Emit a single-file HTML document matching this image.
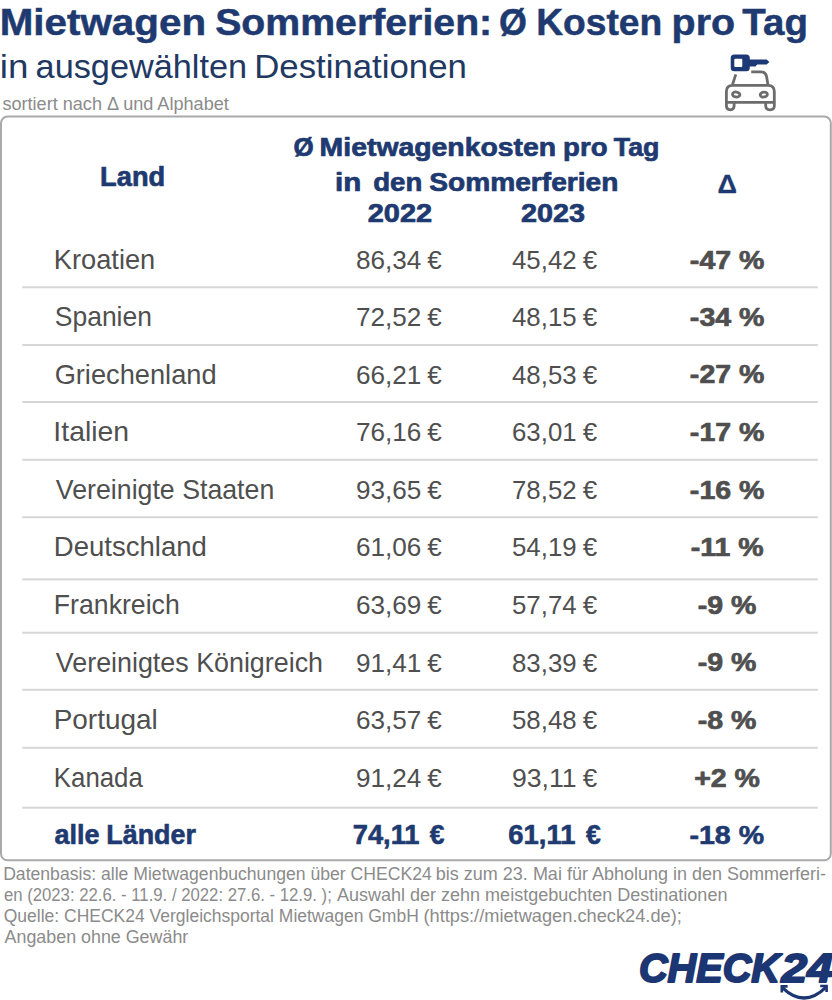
<!DOCTYPE html>
<html lang="de"><head><meta charset="utf-8"><title>Mietwagen Sommerferien</title>
<style>
html,body{margin:0;padding:0;background:#fff;}
body{width:832px;height:1000px;overflow:hidden;}
svg{display:block;}
text{font-family:'Liberation Sans', Arial, sans-serif;white-space:pre;}
</style></head><body>
<svg width="832" height="1000" viewBox="0 0 832 1000">
<rect width="832" height="1000" fill="#fff"/>
<rect x="1" y="116.6" width="829.8" height="743.7" rx="6.5" ry="6.5" fill="none" stroke="#a9a9a9" stroke-width="2"/>
<rect x="22.3" y="286.30" width="795.5" height="2" fill="#d6d6d6"/>
<rect x="22.3" y="344.00" width="795.5" height="2" fill="#d6d6d6"/>
<rect x="22.3" y="401.00" width="795.5" height="2" fill="#d6d6d6"/>
<rect x="22.3" y="458.80" width="795.5" height="2" fill="#d6d6d6"/>
<rect x="22.3" y="516.20" width="795.5" height="2" fill="#d6d6d6"/>
<rect x="22.3" y="578.40" width="795.5" height="2" fill="#d6d6d6"/>
<rect x="22.3" y="631.70" width="795.5" height="2" fill="#d6d6d6"/>
<rect x="22.3" y="688.80" width="795.5" height="2" fill="#d6d6d6"/>
<rect x="22.3" y="746.80" width="795.5" height="2" fill="#d6d6d6"/>
<rect x="22.3" y="806.70" width="795.5" height="2" fill="#d6d6d6"/>

<g id="icon">
 <g fill="none" stroke="#6c6c6c" stroke-width="2.8" stroke-linejoin="round">
  <path d="M735.8 74.4 L732.5 84.6" stroke-linecap="butt"/>
  <path d="M751.2 71.8 L760.8 71.8 Q765.6 71.8 766.6 76.5 L767.9 84.6" stroke-linecap="butt"/>
  <path d="M732.6 85.4 L768.1 85.4 Q774.3 85.4 774.3 91.6 L774.3 102.3 L726.4 102.3 L726.4 91.6 Q726.4 85.4 732.6 85.4 Z"/>
  <path d="M726.4 102.3 L726.4 106.1 Q726.4 109.8 730.25 109.8 Q734.1 109.8 734.1 106.1 L734.1 102.3"/>
  <path d="M765.7 102.3 L765.7 106.1 Q765.7 109.8 770 109.8 Q774.3 109.8 774.3 106.1 L774.3 102.3"/>
  <ellipse cx="736.2" cy="94.5" rx="3.7" ry="2.5" transform="rotate(8 736.2 94.5)"/>
  <ellipse cx="763.8" cy="94.6" rx="3.6" ry="2.4" transform="rotate(-8 763.8 94.6)"/>
 </g>
 <path fill="#1c3877" fill-rule="evenodd" d="M734.3 54.4 L746.2 54.4 Q749.8 54.4 749.8 58 L749.8 59.4 L766.6 59.4 L769.4 62 L766.6 64.6 L757.2 64.6 L755.3 66.6 L749.8 66.6 L749.8 67.7 Q749.8 71.3 746.2 71.3 L734.3 71.3 Q730.7 71.3 730.7 67.7 L730.7 58 Q730.7 54.4 734.3 54.4 Z M735.2 58.8 L741.4 58.8 Q742.3 58.8 742.3 59.7 L742.3 66 Q742.3 66.9 741.4 66.9 L735.2 66.9 Q734.3 66.9 734.3 66 L734.3 59.7 Q734.3 58.8 735.2 58.8 Z"/>
</g>
<text x="-0.27" y="34.85" font-size="37.38" font-weight="bold" fill="#1e3a70" stroke="#1e3a70" stroke-width="0.5" stroke-linejoin="round" textLength="206.32" lengthAdjust="spacingAndGlyphs">Mietwagen</text>
<text x="215.17" y="34.85" font-size="37.38" font-weight="bold" fill="#1e3a70" stroke="#1e3a70" stroke-width="0.5" stroke-linejoin="round" textLength="277.02" lengthAdjust="spacingAndGlyphs">Sommerferien:</text>
<text x="499.12" y="34.85" font-size="37.38" font-weight="bold" fill="#1e3a70" stroke="#1e3a70" stroke-width="0.5" stroke-linejoin="round" textLength="27.88" lengthAdjust="spacingAndGlyphs">Ø</text>
<text x="536.24" y="34.85" font-size="37.38" font-weight="bold" fill="#1e3a70" stroke="#1e3a70" stroke-width="0.5" stroke-linejoin="round" textLength="126.01" lengthAdjust="spacingAndGlyphs">Kosten</text>
<text x="671.59" y="34.85" font-size="37.38" font-weight="bold" fill="#1e3a70" stroke="#1e3a70" stroke-width="0.5" stroke-linejoin="round" textLength="63.47" lengthAdjust="spacingAndGlyphs">pro</text>
<text x="742.37" y="34.85" font-size="37.38" font-weight="bold" fill="#1e3a70" stroke="#1e3a70" stroke-width="0.5" stroke-linejoin="round" textLength="65.53" lengthAdjust="spacingAndGlyphs">Tag</text>
<text x="-0.28" y="78.00" font-size="32.87" font-weight="normal" fill="#213862" textLength="28.61" lengthAdjust="spacingAndGlyphs">in</text>
<text x="35.64" y="78.00" font-size="32.87" font-weight="normal" fill="#213862" textLength="211.45" lengthAdjust="spacingAndGlyphs">ausgewählten</text>
<text x="254.23" y="78.00" font-size="32.87" font-weight="normal" fill="#213862" textLength="212.66" lengthAdjust="spacingAndGlyphs">Destinationen</text>
<text x="2.40" y="109.50" font-size="17.89" font-weight="normal" fill="#8b8b8b" textLength="226.44" lengthAdjust="spacingAndGlyphs">sortiert nach Δ und Alphabet</text>
<text x="100.11" y="185.75" font-size="27.35" font-weight="bold" fill="#1e3a70" stroke="#1e3a70" stroke-width="0.7" stroke-linejoin="round" textLength="65.04" lengthAdjust="spacingAndGlyphs">Land</text>
<text x="293.41" y="156.45" font-size="25.45" font-weight="bold" fill="#1e3a70" stroke="#1e3a70" stroke-width="0.7" stroke-linejoin="round" textLength="20.19" lengthAdjust="spacingAndGlyphs">Ø</text>
<text x="319.63" y="156.45" font-size="25.45" font-weight="bold" fill="#1e3a70" stroke="#1e3a70" stroke-width="0.7" stroke-linejoin="round" textLength="236.52" lengthAdjust="spacingAndGlyphs">Mietwagenkosten</text>
<text x="563.06" y="156.45" font-size="25.45" font-weight="bold" fill="#1e3a70" stroke="#1e3a70" stroke-width="0.7" stroke-linejoin="round" textLength="44.45" lengthAdjust="spacingAndGlyphs">pro</text>
<text x="613.78" y="156.45" font-size="25.45" font-weight="bold" fill="#1e3a70" stroke="#1e3a70" stroke-width="0.7" stroke-linejoin="round" textLength="45.64" lengthAdjust="spacingAndGlyphs">Tag</text>
<text x="335.08" y="190.95" font-size="25.45" font-weight="bold" fill="#1e3a70" stroke="#1e3a70" stroke-width="0.7" stroke-linejoin="round" textLength="26.28" lengthAdjust="spacingAndGlyphs">in</text>
<text x="373.25" y="190.95" font-size="25.45" font-weight="bold" fill="#1e3a70" stroke="#1e3a70" stroke-width="0.7" stroke-linejoin="round" textLength="49.07" lengthAdjust="spacingAndGlyphs">den</text>
<text x="429.28" y="190.95" font-size="25.45" font-weight="bold" fill="#1e3a70" stroke="#1e3a70" stroke-width="0.7" stroke-linejoin="round" textLength="189.16" lengthAdjust="spacingAndGlyphs">Sommerferien</text>
<text x="367.74" y="222.15" font-size="25.45" font-weight="bold" fill="#1e3a70" stroke="#1e3a70" stroke-width="0.7" stroke-linejoin="round" textLength="64.46" lengthAdjust="spacingAndGlyphs">2022</text>
<text x="521.14" y="222.15" font-size="25.45" font-weight="bold" fill="#1e3a70" stroke="#1e3a70" stroke-width="0.7" stroke-linejoin="round" textLength="63.98" lengthAdjust="spacingAndGlyphs">2023</text>
<text x="717.46" y="192.55" font-size="26.47" font-weight="bold" fill="#1e3a70" stroke="#1e3a70" stroke-width="0.3" stroke-linejoin="round" textLength="19.50" lengthAdjust="spacingAndGlyphs">Δ</text>
<text x="53.75" y="269.30" font-size="28.07" font-weight="normal" fill="#4f4f4f" textLength="101.51" lengthAdjust="spacingAndGlyphs">Kroatien</text>
<text x="355.89" y="269.30" font-size="26.62" font-weight="normal" fill="#4f4f4f" textLength="65.33" lengthAdjust="spacingAndGlyphs">86,34</text>
<text x="427.21" y="269.30" font-size="26.62" font-weight="normal" fill="#4f4f4f" textLength="14.45" lengthAdjust="spacingAndGlyphs">€</text>
<text x="512.02" y="269.30" font-size="26.62" font-weight="normal" fill="#4f4f4f" textLength="64.61" lengthAdjust="spacingAndGlyphs">45,42</text>
<text x="582.81" y="269.30" font-size="26.62" font-weight="normal" fill="#4f4f4f" textLength="14.45" lengthAdjust="spacingAndGlyphs">€</text>
<text x="689.88" y="269.15" font-size="25.75" font-weight="bold" fill="#4f4f4f" stroke="#4f4f4f" stroke-width="0.7" stroke-linejoin="round" textLength="74.55" lengthAdjust="spacingAndGlyphs">-47 %</text>
<text x="54.81" y="326.00" font-size="28.07" font-weight="normal" fill="#4f4f4f" textLength="97.15" lengthAdjust="spacingAndGlyphs">Spanien</text>
<text x="355.89" y="326.00" font-size="26.62" font-weight="normal" fill="#4f4f4f" textLength="65.33" lengthAdjust="spacingAndGlyphs">72,52</text>
<text x="427.21" y="326.00" font-size="26.62" font-weight="normal" fill="#4f4f4f" textLength="14.45" lengthAdjust="spacingAndGlyphs">€</text>
<text x="512.02" y="326.00" font-size="26.62" font-weight="normal" fill="#4f4f4f" textLength="64.61" lengthAdjust="spacingAndGlyphs">48,15</text>
<text x="582.81" y="326.00" font-size="26.62" font-weight="normal" fill="#4f4f4f" textLength="14.45" lengthAdjust="spacingAndGlyphs">€</text>
<text x="689.88" y="325.85" font-size="25.75" font-weight="bold" fill="#4f4f4f" stroke="#4f4f4f" stroke-width="0.7" stroke-linejoin="round" textLength="74.55" lengthAdjust="spacingAndGlyphs">-34 %</text>
<text x="54.64" y="383.60" font-size="28.07" font-weight="normal" fill="#4f4f4f" textLength="161.99" lengthAdjust="spacingAndGlyphs">Griechenland</text>
<text x="355.89" y="383.60" font-size="26.62" font-weight="normal" fill="#4f4f4f" textLength="65.33" lengthAdjust="spacingAndGlyphs">66,21</text>
<text x="427.21" y="383.60" font-size="26.62" font-weight="normal" fill="#4f4f4f" textLength="14.45" lengthAdjust="spacingAndGlyphs">€</text>
<text x="512.02" y="383.60" font-size="26.62" font-weight="normal" fill="#4f4f4f" textLength="64.61" lengthAdjust="spacingAndGlyphs">48,53</text>
<text x="582.81" y="383.60" font-size="26.62" font-weight="normal" fill="#4f4f4f" textLength="14.45" lengthAdjust="spacingAndGlyphs">€</text>
<text x="689.88" y="383.45" font-size="25.75" font-weight="bold" fill="#4f4f4f" stroke="#4f4f4f" stroke-width="0.7" stroke-linejoin="round" textLength="74.55" lengthAdjust="spacingAndGlyphs">-27 %</text>
<text x="53.38" y="441.00" font-size="28.07" font-weight="normal" fill="#4f4f4f" textLength="75.73" lengthAdjust="spacingAndGlyphs">Italien</text>
<text x="355.89" y="441.00" font-size="26.62" font-weight="normal" fill="#4f4f4f" textLength="65.33" lengthAdjust="spacingAndGlyphs">76,16</text>
<text x="427.21" y="441.00" font-size="26.62" font-weight="normal" fill="#4f4f4f" textLength="14.45" lengthAdjust="spacingAndGlyphs">€</text>
<text x="512.02" y="441.00" font-size="26.62" font-weight="normal" fill="#4f4f4f" textLength="64.61" lengthAdjust="spacingAndGlyphs">63,01</text>
<text x="582.81" y="441.00" font-size="26.62" font-weight="normal" fill="#4f4f4f" textLength="14.45" lengthAdjust="spacingAndGlyphs">€</text>
<text x="689.88" y="440.85" font-size="25.75" font-weight="bold" fill="#4f4f4f" stroke="#4f4f4f" stroke-width="0.7" stroke-linejoin="round" textLength="74.55" lengthAdjust="spacingAndGlyphs">-17 %</text>
<text x="55.87" y="499.20" font-size="28.07" font-weight="normal" fill="#4f4f4f" textLength="218.42" lengthAdjust="spacingAndGlyphs">Vereinigte Staaten</text>
<text x="355.89" y="499.20" font-size="26.62" font-weight="normal" fill="#4f4f4f" textLength="65.33" lengthAdjust="spacingAndGlyphs">93,65</text>
<text x="427.21" y="499.20" font-size="26.62" font-weight="normal" fill="#4f4f4f" textLength="14.45" lengthAdjust="spacingAndGlyphs">€</text>
<text x="512.02" y="499.20" font-size="26.62" font-weight="normal" fill="#4f4f4f" textLength="64.61" lengthAdjust="spacingAndGlyphs">78,52</text>
<text x="582.81" y="499.20" font-size="26.62" font-weight="normal" fill="#4f4f4f" textLength="14.45" lengthAdjust="spacingAndGlyphs">€</text>
<text x="689.88" y="499.05" font-size="25.75" font-weight="bold" fill="#4f4f4f" stroke="#4f4f4f" stroke-width="0.7" stroke-linejoin="round" textLength="74.55" lengthAdjust="spacingAndGlyphs">-16 %</text>
<text x="53.73" y="556.10" font-size="28.07" font-weight="normal" fill="#4f4f4f" textLength="153.25" lengthAdjust="spacingAndGlyphs">Deutschland</text>
<text x="355.89" y="556.10" font-size="26.62" font-weight="normal" fill="#4f4f4f" textLength="65.33" lengthAdjust="spacingAndGlyphs">61,06</text>
<text x="427.21" y="556.10" font-size="26.62" font-weight="normal" fill="#4f4f4f" textLength="14.45" lengthAdjust="spacingAndGlyphs">€</text>
<text x="512.02" y="556.10" font-size="26.62" font-weight="normal" fill="#4f4f4f" textLength="64.61" lengthAdjust="spacingAndGlyphs">54,19</text>
<text x="582.81" y="556.10" font-size="26.62" font-weight="normal" fill="#4f4f4f" textLength="14.45" lengthAdjust="spacingAndGlyphs">€</text>
<text x="690.66" y="555.95" font-size="25.75" font-weight="bold" fill="#4f4f4f" stroke="#4f4f4f" stroke-width="0.7" stroke-linejoin="round" textLength="72.98" lengthAdjust="spacingAndGlyphs">-11 %</text>
<text x="53.80" y="613.80" font-size="28.07" font-weight="normal" fill="#4f4f4f" textLength="126.00" lengthAdjust="spacingAndGlyphs">Frankreich</text>
<text x="355.89" y="613.80" font-size="26.62" font-weight="normal" fill="#4f4f4f" textLength="65.33" lengthAdjust="spacingAndGlyphs">63,69</text>
<text x="427.21" y="613.80" font-size="26.62" font-weight="normal" fill="#4f4f4f" textLength="14.45" lengthAdjust="spacingAndGlyphs">€</text>
<text x="512.02" y="613.80" font-size="26.62" font-weight="normal" fill="#4f4f4f" textLength="64.61" lengthAdjust="spacingAndGlyphs">57,74</text>
<text x="582.81" y="613.80" font-size="26.62" font-weight="normal" fill="#4f4f4f" textLength="14.45" lengthAdjust="spacingAndGlyphs">€</text>
<text x="697.80" y="613.65" font-size="25.75" font-weight="bold" fill="#4f4f4f" stroke="#4f4f4f" stroke-width="0.7" stroke-linejoin="round" textLength="58.68" lengthAdjust="spacingAndGlyphs">-9 %</text>
<text x="55.87" y="671.60" font-size="28.07" font-weight="normal" fill="#4f4f4f" textLength="267.14" lengthAdjust="spacingAndGlyphs">Vereinigtes Königreich</text>
<text x="355.89" y="671.60" font-size="26.62" font-weight="normal" fill="#4f4f4f" textLength="65.33" lengthAdjust="spacingAndGlyphs">91,41</text>
<text x="427.21" y="671.60" font-size="26.62" font-weight="normal" fill="#4f4f4f" textLength="14.45" lengthAdjust="spacingAndGlyphs">€</text>
<text x="512.02" y="671.60" font-size="26.62" font-weight="normal" fill="#4f4f4f" textLength="64.61" lengthAdjust="spacingAndGlyphs">83,39</text>
<text x="582.81" y="671.60" font-size="26.62" font-weight="normal" fill="#4f4f4f" textLength="14.45" lengthAdjust="spacingAndGlyphs">€</text>
<text x="697.80" y="671.45" font-size="25.75" font-weight="bold" fill="#4f4f4f" stroke="#4f4f4f" stroke-width="0.7" stroke-linejoin="round" textLength="58.68" lengthAdjust="spacingAndGlyphs">-9 %</text>
<text x="53.69" y="728.80" font-size="28.07" font-weight="normal" fill="#4f4f4f" textLength="104.08" lengthAdjust="spacingAndGlyphs">Portugal</text>
<text x="355.89" y="728.80" font-size="26.62" font-weight="normal" fill="#4f4f4f" textLength="65.33" lengthAdjust="spacingAndGlyphs">63,57</text>
<text x="427.21" y="728.80" font-size="26.62" font-weight="normal" fill="#4f4f4f" textLength="14.45" lengthAdjust="spacingAndGlyphs">€</text>
<text x="512.02" y="728.80" font-size="26.62" font-weight="normal" fill="#4f4f4f" textLength="64.61" lengthAdjust="spacingAndGlyphs">58,48</text>
<text x="582.81" y="728.80" font-size="26.62" font-weight="normal" fill="#4f4f4f" textLength="14.45" lengthAdjust="spacingAndGlyphs">€</text>
<text x="697.80" y="728.65" font-size="25.75" font-weight="bold" fill="#4f4f4f" stroke="#4f4f4f" stroke-width="0.7" stroke-linejoin="round" textLength="58.68" lengthAdjust="spacingAndGlyphs">-8 %</text>
<text x="53.87" y="787.30" font-size="28.07" font-weight="normal" fill="#4f4f4f" textLength="88.97" lengthAdjust="spacingAndGlyphs">Kanada</text>
<text x="355.89" y="787.30" font-size="26.62" font-weight="normal" fill="#4f4f4f" textLength="65.33" lengthAdjust="spacingAndGlyphs">91,24</text>
<text x="427.21" y="787.30" font-size="26.62" font-weight="normal" fill="#4f4f4f" textLength="14.45" lengthAdjust="spacingAndGlyphs">€</text>
<text x="512.02" y="787.30" font-size="26.62" font-weight="normal" fill="#4f4f4f" textLength="64.61" lengthAdjust="spacingAndGlyphs">93,11</text>
<text x="582.81" y="787.30" font-size="26.62" font-weight="normal" fill="#4f4f4f" textLength="14.45" lengthAdjust="spacingAndGlyphs">€</text>
<text x="694.16" y="787.15" font-size="25.75" font-weight="bold" fill="#4f4f4f" stroke="#4f4f4f" stroke-width="0.7" stroke-linejoin="round" textLength="65.84" lengthAdjust="spacingAndGlyphs">+2 %</text>
<text x="54.46" y="843.70" font-size="27.20" font-weight="bold" fill="#1e3a70" stroke="#1e3a70" stroke-width="0.6" stroke-linejoin="round" textLength="45.03" lengthAdjust="spacingAndGlyphs">alle</text>
<text x="106.29" y="843.70" font-size="27.20" font-weight="bold" fill="#1e3a70" stroke="#1e3a70" stroke-width="0.6" stroke-linejoin="round" textLength="89.59" lengthAdjust="spacingAndGlyphs">Länder</text>
<text x="352.74" y="843.80" font-size="27.05" font-weight="bold" fill="#1e3a70" stroke="#1e3a70" stroke-width="0.6" stroke-linejoin="round" textLength="66.81" lengthAdjust="spacingAndGlyphs">74,11</text>
<text x="429.87" y="843.80" font-size="27.05" font-weight="bold" fill="#1e3a70" stroke="#1e3a70" stroke-width="0.6" stroke-linejoin="round" textLength="14.66" lengthAdjust="spacingAndGlyphs">€</text>
<text x="508.34" y="843.80" font-size="27.05" font-weight="bold" fill="#1e3a70" stroke="#1e3a70" stroke-width="0.6" stroke-linejoin="round" textLength="67.11" lengthAdjust="spacingAndGlyphs">61,11</text>
<text x="585.97" y="843.80" font-size="27.05" font-weight="bold" fill="#1e3a70" stroke="#1e3a70" stroke-width="0.6" stroke-linejoin="round" textLength="14.76" lengthAdjust="spacingAndGlyphs">€</text>
<text x="689.43" y="843.80" font-size="26.18" font-weight="bold" fill="#1e3a70" stroke="#1e3a70" stroke-width="0.6" stroke-linejoin="round" textLength="74.65" lengthAdjust="spacingAndGlyphs">-18 %</text>
<text x="3.15" y="879.50" font-size="17.45" font-weight="normal" fill="#8b8b8b" textLength="428.66" lengthAdjust="spacingAndGlyphs">Datenbasis: alle Mietwagenbuchungen über CHECK24</text>
<text x="435.83" y="879.50" font-size="17.45" font-weight="normal" fill="#8b8b8b" textLength="390.23" lengthAdjust="spacingAndGlyphs">bis zum 23. Mai für Abholung in den Sommerferi-</text>
<text x="3.89" y="900.60" font-size="17.45" font-weight="normal" fill="#8b8b8b" textLength="327.94" lengthAdjust="spacingAndGlyphs">en (2023: 22.6. - 11.9. / 2022: 27.6. - 12.9. );</text>
<text x="336.95" y="900.60" font-size="17.45" font-weight="normal" fill="#8b8b8b" textLength="390.49" lengthAdjust="spacingAndGlyphs">Auswahl der zehn meistgebuchten Destinationen</text>
<text x="3.77" y="921.70" font-size="17.45" font-weight="normal" fill="#8b8b8b" textLength="415.01" lengthAdjust="spacingAndGlyphs">Quelle: CHECK24 Vergleichsportal Mietwagen GmbH</text>
<text x="423.46" y="921.70" font-size="17.45" font-weight="normal" fill="#8b8b8b" textLength="258.37" lengthAdjust="spacingAndGlyphs">(https://mietwagen.check24.de);</text>
<text x="4.56" y="943.00" font-size="17.45" font-weight="normal" fill="#8b8b8b" textLength="183.73" lengthAdjust="spacingAndGlyphs">Angaben ohne Gewähr</text>

<g id="logo">
 <text y="981.90" font-size="41.31" font-weight="bold" font-style="italic" fill="#1b3672" stroke="#1b3672" stroke-width="2.0" stroke-linejoin="round"><tspan x="638.92" textLength="141.03" lengthAdjust="spacingAndGlyphs">CHECK</tspan><tspan x="781.59" textLength="51.21" lengthAdjust="spacingAndGlyphs">24</tspan></text>
 <path d="M782.6 987.8 Q804.3 1008.5 825.8 987.4" fill="none" stroke="#1b3672" stroke-width="3.2"/>
 <path d="M787.6 986.4 L781.8 986.4 L781.8 992.6" fill="none" stroke="#1b3672" stroke-width="2.6" stroke-linejoin="miter"/>
 <path d="M820.2 986.0 L826.6 986.0 L826.6 992.0" fill="none" stroke="#1b3672" stroke-width="2.6" stroke-linejoin="miter"/>
</g>
</svg>
</body></html>
